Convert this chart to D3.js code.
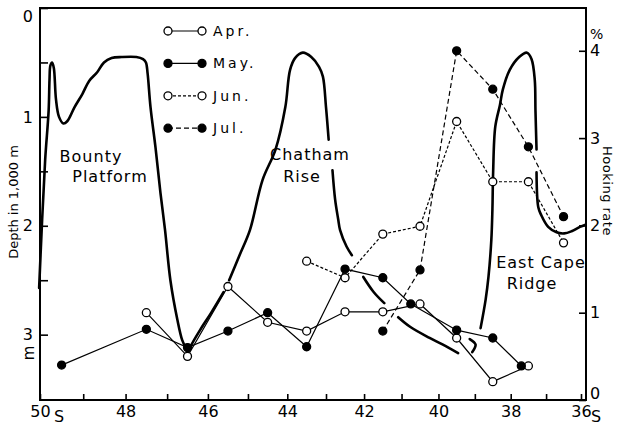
<!DOCTYPE html>
<html>
<head>
<meta charset="utf-8">
<script src="https://cdn.jsdelivr.net/npm/d3@7"></script>
<style>
body { margin: 0; background: #fff; }
text { font-family: "DejaVu Sans", sans-serif; fill: #000; }
</style>
</head>
<body>
<div id="chart-area"></div>
<script>

// latitude ticks (deg S)
var latTicks = [50, 49, 48, 47, 46, 45, 44, 43, 42, 41, 40, 39, 38, 37, 36];
var depthTicks = [0, 0.5, 1, 1.5, 2, 2.5, 3];
var rateTicks = [0, 1, 2, 3, 4];

// hooking rate (%)
var aprLat  = [47.5, 46.5, 45.5, 44.5, 43.5, 42.5, 41.5, 40.5, 39.5, 38.5, 37.5];
var aprRate = [1.00, 0.50, 1.30, 0.89, 0.79, 1.01, 1.01, 1.10, 0.71, 0.21, 0.39];

var mayLat  = [49.5, 47.5, 46.5, 45.5, 44.5, 43.5, 42.5, 41.5, 40.75, 39.5, 38.5, 37.7];
var mayRate = [0.40, 0.81, 0.60, 0.79, 1.00, 0.61, 1.50, 1.40, 1.10, 0.80, 0.71, 0.39];

var junLat  = [43.5, 42.5, 41.5, 40.5, 39.5, 38.5, 37.5, 36.5];
var junRate = [1.59, 1.40, 1.90, 1.99, 3.19, 2.50, 2.50, 1.80];

var julLat  = [41.5, 40.5, 39.5, 38.5, 37.5, 36.5];
var julRate = [0.79, 1.49, 4.00, 3.56, 2.90, 2.10];

// bottom profile (depth in 1,000 m), null = break in the drawn line
var profileLat = [50.02, 49.95, 49.88, 49.80, 49.78, 49.76, 49.72, 49.68, 49.63, 49.56, 49.46, 49.37, 49.20, 49.02,
    48.86, 48.67, 48.51, 48.33, 48.09, 47.74, 47.58, 47.51, 47.47, 47.40, 47.28, 47.16, 47.05, 46.92, 46.75,
    46.63, 46.54, 46.47, 46.40, 46.18, 45.92, 45.61, null,
    45.47, 45.21, 44.95, 44.63, 44.30, 44.05, 43.93, 43.80, 43.60, 43.38, 43.18, 43.08, 43.00, 42.93, null,
    42.83, 42.76, 42.68, 42.63, 42.46, 42.32, null,
    42.02, 41.74, 41.46, null,
    41.09, 40.76, 40.24, 39.89, 39.46, null,
    39.14, 38.98, 39.07, null,
    38.84, 38.70, 38.62, 38.54, 38.51, 38.49, 38.43, 38.30, 38.22, 38.03, 37.76, 37.54, 37.41, 37.32, 37.30, 37.27, null,
    37.27, 37.22, 37.14, 36.94, 36.70, 36.48, 36.27, 36.03, 35.87];
var profileDepth = [2.57, 1.94, 1.39, 0.94, 0.66, 0.53, 0.50, 0.55, 0.84, 1.00, 1.06, 1.04, 0.91, 0.79,
    0.67, 0.59, 0.50, 0.46, 0.45, 0.45, 0.47, 0.50, 0.60, 0.91, 1.28, 1.70, 2.04, 2.50, 2.86,
    3.05, 3.12, 3.15, 3.09, 2.95, 2.80, 2.61, null,
    2.50, 2.27, 2.04, 1.58, 1.30, 0.91, 0.57, 0.46, 0.41, 0.45, 0.54, 0.63, 0.91, 1.21, null,
    1.49, 1.76, 1.94, 2.04, 2.19, 2.27, null,
    2.47, 2.61, 2.71, null,
    2.84, 2.93, 3.03, 3.09, 3.17, null,
    3.04, 3.09, 3.16, null,
    2.94, 2.68, 2.47, 2.13, 1.85, 1.51, 1.09, 0.89, 0.75, 0.57, 0.45, 0.41, 0.47, 0.66, 0.94, 1.30, null,
    1.51, 1.83, 1.90, 2.01, 2.06, 2.07, 2.05, 2.01, 1.99];

var margin = { left: 40, right: 34, top: 8, bottom: 27 };
var width = 620 - margin.left - margin.right,
    height = 427 - margin.top - margin.bottom;

var svg = d3.select("#chart-area")
    .append("svg")
        .attr("width", 620)
        .attr("height", 427);

var g = svg.append("g")
    .attr("transform", "translate(" + margin.left + ", " + margin.top + ")");

// Mercator spacing of latitude, as in the original map profile
function merc(lat) { return Math.log(Math.tan(Math.PI / 4 + lat * Math.PI / 360)); }
var xm = d3.scaleLinear().domain([merc(50), merc(36)]).range([0, width - 5]);
var x = d3.scaleLinear()
    .domain(latTicks)
    .range(latTicks.map(function(d) { return xm(merc(d)); }));

var yDepth = d3.scaleLinear().domain([0, 3.6]).range([0, height]);
var yRate = d3.scaleLinear().domain([0, 4.49]).range([height, 0]);

// Axes
var xAxisCall = d3.axisBottom(x)
    .tickValues(latTicks)
    .tickSizeInner(-6).tickSizeOuter(0).tickPadding(6)
    .tickFormat(function(d) { return d % 2 === 0 ? d : ""; });
var xAxisGroup = g.append("g")
    .attr("transform", "translate(0," + height + ")")
    .call(xAxisCall);

var yAxisCall = d3.axisLeft(yDepth)
    .tickValues(depthTicks)
    .tickSizeInner(-8).tickSizeOuter(0).tickPadding(7)
    .tickFormat(function(d) { return Number.isInteger(d) ? d : ""; });
var yAxisGroup = g.append("g").call(yAxisCall);

var rAxisCall = d3.axisRight(yRate)
    .tickValues(rateTicks)
    .tickSizeInner(-7).tickSizeOuter(0).tickPadding(4)
    .tickFormat(d3.format("d"));
var rAxisGroup = g.append("g")
    .attr("transform", "translate(" + width + ",0)")
    .call(rAxisCall);

[xAxisGroup, yAxisGroup, rAxisGroup].forEach(function(ax) {
    ax.select(".domain").remove();
    ax.attr("font-size", 16).attr("font-family", "DejaVu Sans, sans-serif");
    ax.selectAll("line").attr("stroke", "#000").attr("stroke-width", 1.6);
});
yAxisGroup.selectAll(".tick text").filter(function(d) { return d === 0; }).attr("y", 8);
rAxisGroup.selectAll(".tick text").filter(function(d) { return d === 0; }).attr("y", -7);

// frame
g.append("rect")
    .attr("width", width)
    .attr("height", height)
    .attr("fill", "none")
    .attr("stroke", "#000")
    .attr("stroke-width", 2);

// S after 50 and 36
g.append("text").attr("x", x(50) + 14).attr("y", height + 22).attr("font-size", 16).text("S");
g.append("text").attr("x", x(36) + 10).attr("y", height + 22).attr("font-size", 16).text("S");

// axis titles
g.append("text")
    .attr("transform", "translate(" + (-22) + "," + 194 + ") rotate(-90)")
    .attr("text-anchor", "middle")
    .attr("font-size", 13)
    .text("Depth in 1,000 m");
g.append("text")
    .attr("transform", "translate(" + (-6) + "," + 345 + ") rotate(-90)")
    .attr("text-anchor", "middle")
    .attr("font-size", 15)
    .text("m");
g.append("text")
    .attr("transform", "translate(" + (width + 17) + "," + 183 + ") rotate(90)")
    .attr("text-anchor", "middle")
    .attr("font-size", 13)
    .attr("letter-spacing", 0.5)
    .text("Hooking rate");
g.append("text")
    .attr("x", width + 4)
    .attr("y", 31)
    .attr("font-size", 14)
    .text("%");

// bottom profile
var profile = profileLat.map(function(d, i) { return { lat: d, depth: profileDepth[i] }; });
var profileLine = d3.line()
    .defined(function(d) { return d.lat !== null; })
    .x(function(d) { return x(d.lat); })
    .y(function(d) { return yDepth(d.depth); })
    .curve(d3.curveCatmullRom.alpha(0.5));
g.append("path")
    .datum(profile)
    .attr("d", profileLine)
    .attr("fill", "none")
    .attr("stroke", "#000")
    .attr("stroke-width", 2.6)
    .attr("stroke-linecap", "round");

// place names
var places = [
    { t: "Bounty", x: 91, y: 162 }, { t: "Platform", x: 110, y: 182 },
    { t: "Chatham", x: 310, y: 160 }, { t: "Rise", x: 302, y: 182 },
    { t: "East Cape", x: 541, y: 268 }, { t: "Ridge", x: 532, y: 289 }
];
svg.selectAll(".place").data(places).enter()
    .append("text")
        .attr("class", "place")
        .attr("x", function(d) { return d.x; })
        .attr("y", function(d) { return d.y; })
        .attr("text-anchor", "middle")
        .attr("font-size", 16)
        .attr("letter-spacing", 1)
        .text(function(d) { return d.t; });

// hooking rate series
var series = [
    { name: "Apr.", lat: aprLat, rate: aprRate, fill: "#fff", dash: null },
    { name: "May.", lat: mayLat, rate: mayRate, fill: "#000", dash: null },
    { name: "Jun.", lat: junLat, rate: junRate, fill: "#fff", dash: "3,2" },
    { name: "Jul.", lat: julLat, rate: julRate, fill: "#000", dash: "5,3" }
];

var rateLine = d3.line()
    .x(function(d) { return x(d.lat); })
    .y(function(d) { return yRate(d.rate); });

series.forEach(function(s) {
    var pts = s.lat.map(function(d, i) { return { lat: d, rate: s.rate[i] }; });
    g.append("path")
        .datum(pts)
        .attr("d", rateLine)
        .attr("fill", "none")
        .attr("stroke", "#000")
        .attr("stroke-width", 1.2)
        .attr("stroke-dasharray", s.dash);
});
series.forEach(function(s) {
    var pts = s.lat.map(function(d, i) { return { lat: d, rate: s.rate[i] }; });
    g.selectAll(null).data(pts).enter()
        .append("circle")
            .attr("cx", function(d) { return x(d.lat); })
            .attr("cy", function(d) { return yRate(d.rate); })
            .attr("r", 4)
            .attr("fill", s.fill)
            .attr("stroke", "#000")
            .attr("stroke-width", 1.3);
});

// legend
var legend = svg.append("g").attr("transform", "translate(168,31)");
series.forEach(function(s, i) {
    var row = legend.append("g").attr("transform", "translate(0," + (i * 32.4) + ")");
    row.append("line")
        .attr("x1", 0).attr("x2", 34)
        .attr("stroke", "#000")
        .attr("stroke-width", 1.2)
        .attr("stroke-dasharray", s.dash);
    row.selectAll("circle").data([0, 34]).enter()
        .append("circle")
            .attr("cx", function(d) { return d; })
            .attr("r", 4)
            .attr("fill", s.fill)
            .attr("stroke", "#000")
            .attr("stroke-width", 1.3);
    row.append("text")
        .attr("x", 45)
        .attr("y", 5)
        .attr("font-size", 14)
        .attr("letter-spacing", 3)
        .text(s.name);
});

</script>
</body>
</html>
